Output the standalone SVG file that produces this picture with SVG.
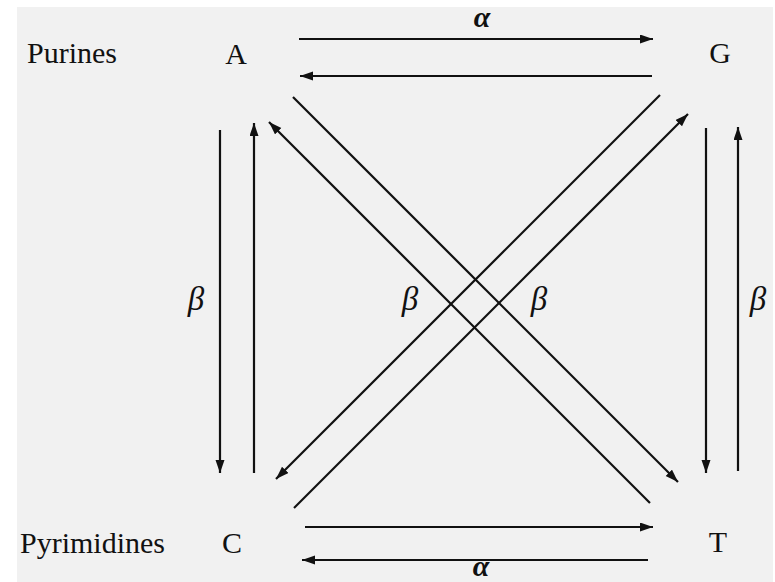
<svg xmlns="http://www.w3.org/2000/svg" width="775" height="582" viewBox="0 0 775 582">
<style>
.lbl{font-family:"Liberation Serif","DejaVu Serif",serif;font-size:30px;fill:#111;}
.node{font-family:"Liberation Serif","DejaVu Serif",serif;font-size:30px;fill:#111;text-anchor:middle;}
.greek{font-family:"Liberation Serif","DejaVu Serif",serif;font-size:33px;font-style:italic;fill:#111;text-anchor:middle;}
.alpha{font-family:"Liberation Serif","DejaVu Serif",serif;font-size:30px;font-style:italic;font-weight:bold;fill:#111;text-anchor:middle;}
.edge{stroke:#111;stroke-width:2.2;fill:none;}
</style>
<defs>
<marker id="ah" markerUnits="userSpaceOnUse" markerWidth="14" markerHeight="10" refX="13" refY="4.5" orient="auto">
<path d="M0,0 L13,4.5 L0,9 z" fill="#111"/>
</marker>
</defs>
<rect x="0" y="0" width="775" height="582" fill="#ffffff"/>
<rect x="17" y="7" width="756" height="575" fill="#f1f1f1"/>
<g id="labels">
<text class="lbl" x="27" y="63">Purines</text>
<text class="lbl" x="20" y="553">Pyrimidines</text>
</g>
<g id="node-A"><text class="node" x="236" y="64">A</text></g>
<g id="node-G"><text class="node" x="720" y="63">G</text></g>
<g id="node-C"><text class="node" x="232" y="553">C</text></g>
<g id="node-T"><text class="node" x="718" y="552">T</text></g>
<g id="connectors">
<line class="edge" x1="299" y1="39" x2="653" y2="39" marker-end="url(#ah)"/>
<line class="edge" x1="652" y1="76" x2="300" y2="76" marker-end="url(#ah)"/>
<line class="edge" x1="305" y1="527" x2="653" y2="527" marker-end="url(#ah)"/>
<line class="edge" x1="648" y1="560" x2="302" y2="560" marker-end="url(#ah)"/>
<line class="edge" x1="220" y1="130" x2="220" y2="473" marker-end="url(#ah)"/>
<line class="edge" x1="254" y1="473" x2="254" y2="123" marker-end="url(#ah)"/>
<line class="edge" x1="706" y1="128" x2="706" y2="473" marker-end="url(#ah)"/>
<line class="edge" x1="738" y1="471" x2="738" y2="127" marker-end="url(#ah)"/>
<line class="edge" x1="293" y1="97" x2="678" y2="482" marker-end="url(#ah)"/>
<line class="edge" x1="650" y1="503" x2="269" y2="122" marker-end="url(#ah)"/>
<line class="edge" x1="660" y1="95" x2="276" y2="479" marker-end="url(#ah)"/>
<line class="edge" x1="294" y1="508" x2="688" y2="114" marker-end="url(#ah)"/>
</g>
<g id="edge-labels">
<text class="alpha" x="482" y="27">α</text>
<text class="alpha" x="481" y="576" font-size="27">α</text>
<text class="greek" x="196" y="310">β</text>
<text class="greek" x="410" y="310">β</text>
<text class="greek" x="539" y="310">β</text>
<text class="greek" x="758" y="310">β</text>
</g>
</svg>
